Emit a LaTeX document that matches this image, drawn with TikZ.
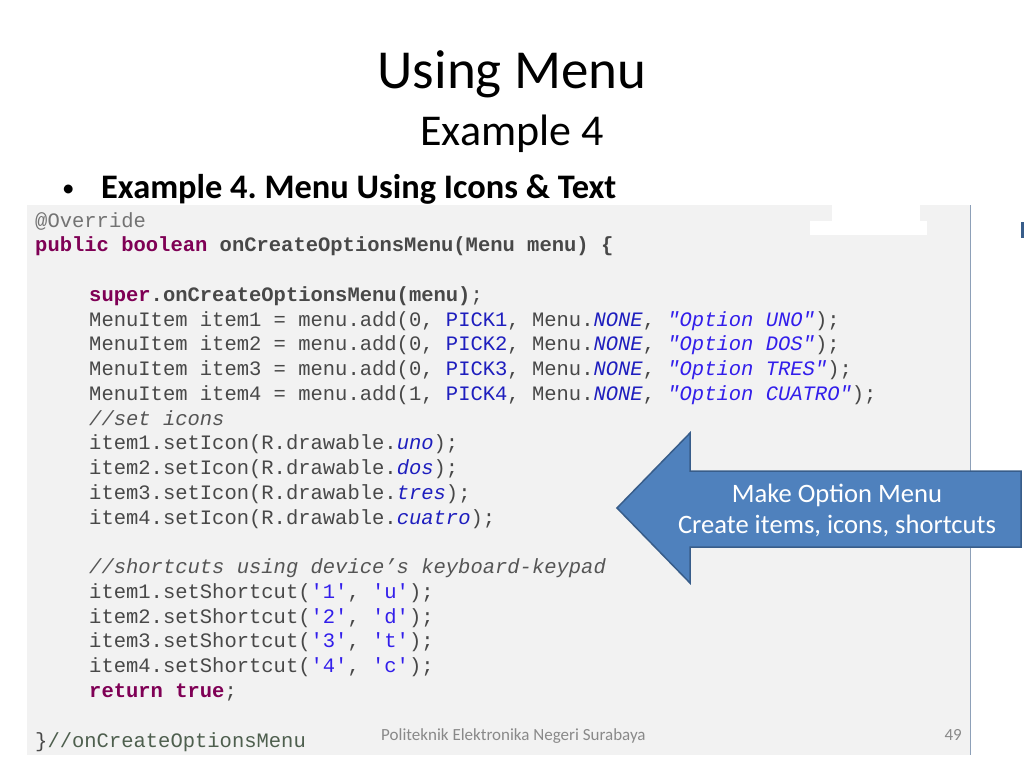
\documentclass[tikz,border=0pt]{standalone}
\usepackage{fontspec}
\setmainfont{Carlito}
\setmonofont{Liberation Mono}
\usepackage{xcolor}
\usetikzlibrary{positioning}
\definecolor{kwcol}{RGB}{127,0,85}
\definecolor{txtcol}{RGB}{72,72,72}
\definecolor{cstcol}{RGB}{30,30,190}
\definecolor{strcol}{RGB}{50,30,235}
\definecolor{cmtcol}{RGB}{85,85,85}
\definecolor{anncol}{RGB}{115,115,115}
\definecolor{endcol}{RGB}{78,95,78}
\definecolor{boxcol}{RGB}{242,242,242}
\definecolor{edgecol}{RGB}{141,160,184}
\definecolor{arrowfill}{RGB}{79,129,189}
\definecolor{arrowdraw}{RGB}{56,93,138}
\definecolor{footcol}{RGB}{137,137,137}
\newcommand{\kw}[1]{\textcolor{kwcol}{\bfseries #1}}
\newcommand{\cnst}[1]{\textcolor{cstcol}{#1}}
\newcommand{\fld}[1]{\textcolor{cstcol}{\itshape #1}}
\newcommand{\strg}[1]{\textcolor{strcol}{\itshape #1}}
\newcommand{\chlit}[1]{\textcolor{strcol}{#1}}
\newcommand{\cmt}[1]{\textcolor{cmtcol}{\itshape #1}}
\frenchspacing
\tikzset{
    code/.style={anchor=base west, inner sep=0pt, text=txtcol, font=\ttfamily\fontsize{20.5}{24}\selectfont}, % one line of the listing
    arrowshape/.style={fill=arrowfill, draw=arrowdraw, line width=1.5pt, line join=miter}, % the big block arrow
    arrowtext/.style={anchor=base, inner sep=0pt, text=white, font=\fontsize{26.6}{30}\selectfont},
    foot/.style={inner sep=0pt, text=footcol, font=\fontsize{17}{20}\selectfont},
}

\begin{document}
\begin{tikzpicture}[x=1pt, y=-1pt]
    \useasboundingbox (0,0) rectangle (1024,768);

    \node[anchor=base, inner sep=0pt, font=\fontsize{55}{60}\selectfont] (title) at (512,88) {Using Menu};
    \node[anchor=base, inner sep=0pt, font=\fontsize{44}{50}\selectfont] (sub) at (512,145) {Example 4};
    \node[anchor=base west, inner sep=0pt, font=\fontsize{25}{30}\selectfont] (bul) at (62,196) {•};
    \node[anchor=base west, inner sep=0pt, font=\bfseries\fontsize{34.4}{40}\selectfont] (head) at (101,198) {Example 4. Menu Using Icons \& Text};

    % code listing
    \fill[boxcol] (27,205) rectangle (970,755);
    \draw[edgecol] (970,205) -- (970,755);
    \fill[white] (832,205) rectangle (920,221);
    \fill[white] (810,221) rectangle (927,235);
    \fill[arrowdraw] (1021,222) rectangle (1024,238);

    \node[code, text=anncol] (l0) at (35,227.0) {@Override};
    \node[code] (l1) at (35,251.8) {\kw{public boolean} \textbf{onCreateOptionsMenu(Menu menu) \{}};
    \node[code] (l3) at (89,301.3) {\kw{super}\textbf{.onCreateOptionsMenu(menu)};};
    \node[code] (l4) at (89,326.0) {MenuItem item1 = menu.add(0, \cnst{PICK1}, Menu.\fld{NONE}, \strg{"Option UNO"});};
    \node[code] (l5) at (89,350.8) {MenuItem item2 = menu.add(0, \cnst{PICK2}, Menu.\fld{NONE}, \strg{"Option DOS"});};
    \node[code] (l6) at (89,375.6) {MenuItem item3 = menu.add(0, \cnst{PICK3}, Menu.\fld{NONE}, \strg{"Option TRES"});};
    \node[code] (l7) at (89,400.3) {MenuItem item4 = menu.add(1, \cnst{PICK4}, Menu.\fld{NONE}, \strg{"Option CUATRO"});};
    \node[code] (l8) at (89,425.1) {\cmt{//set icons}};
    \node[code] (l9) at (89,449.8) {item1.setIcon(R.drawable.\fld{uno});};
    \node[code] (l10) at (89,474.6) {item2.setIcon(R.drawable.\fld{dos});};
    \node[code] (l11) at (89,499.4) {item3.setIcon(R.drawable.\fld{tres});};
    \node[code] (l12) at (89,524.1) {item4.setIcon(R.drawable.\fld{cuatro});};
    \node[code] (l14) at (89,573.6) {\cmt{//shortcuts using device’s keyboard-keypad}};
    \node[code] (l15) at (89,598.4) {item1.setShortcut(\chlit{'1'}, \chlit{'u'});};
    \node[code] (l16) at (89,623.2) {item2.setShortcut(\chlit{'2'}, \chlit{'d'});};
    \node[code] (l17) at (89,647.9) {item3.setShortcut(\chlit{'3'}, \chlit{'t'});};
    \node[code] (l18) at (89,672.7) {item4.setShortcut(\chlit{'4'}, \chlit{'c'});};
    \node[code] (l19) at (89,697.4) {\kw{return true};};
    \node[code] (l21) at (35,747.0) {\}\textcolor{endcol}{//onCreateOptionsMenu}};

    % footer
    \node[foot, anchor=base west] (school) at (381,740) {Politeknik Elektronika Negeri Surabaya};
    \node[foot, anchor=base east] (page) at (962,740) {49};

    % callout arrow
    \draw[arrowshape] (617,508) -- (690,433) -- (690,471) -- (1021,471) -- (1021,547) -- (690,547) -- (690,583) -- cycle;
    \node[arrowtext] (note1) at (837,502) {Make Option Menu};
    \node[arrowtext] (note2) at (837,533) {Create items, icons, shortcuts};
\end{tikzpicture}
\end{document}
